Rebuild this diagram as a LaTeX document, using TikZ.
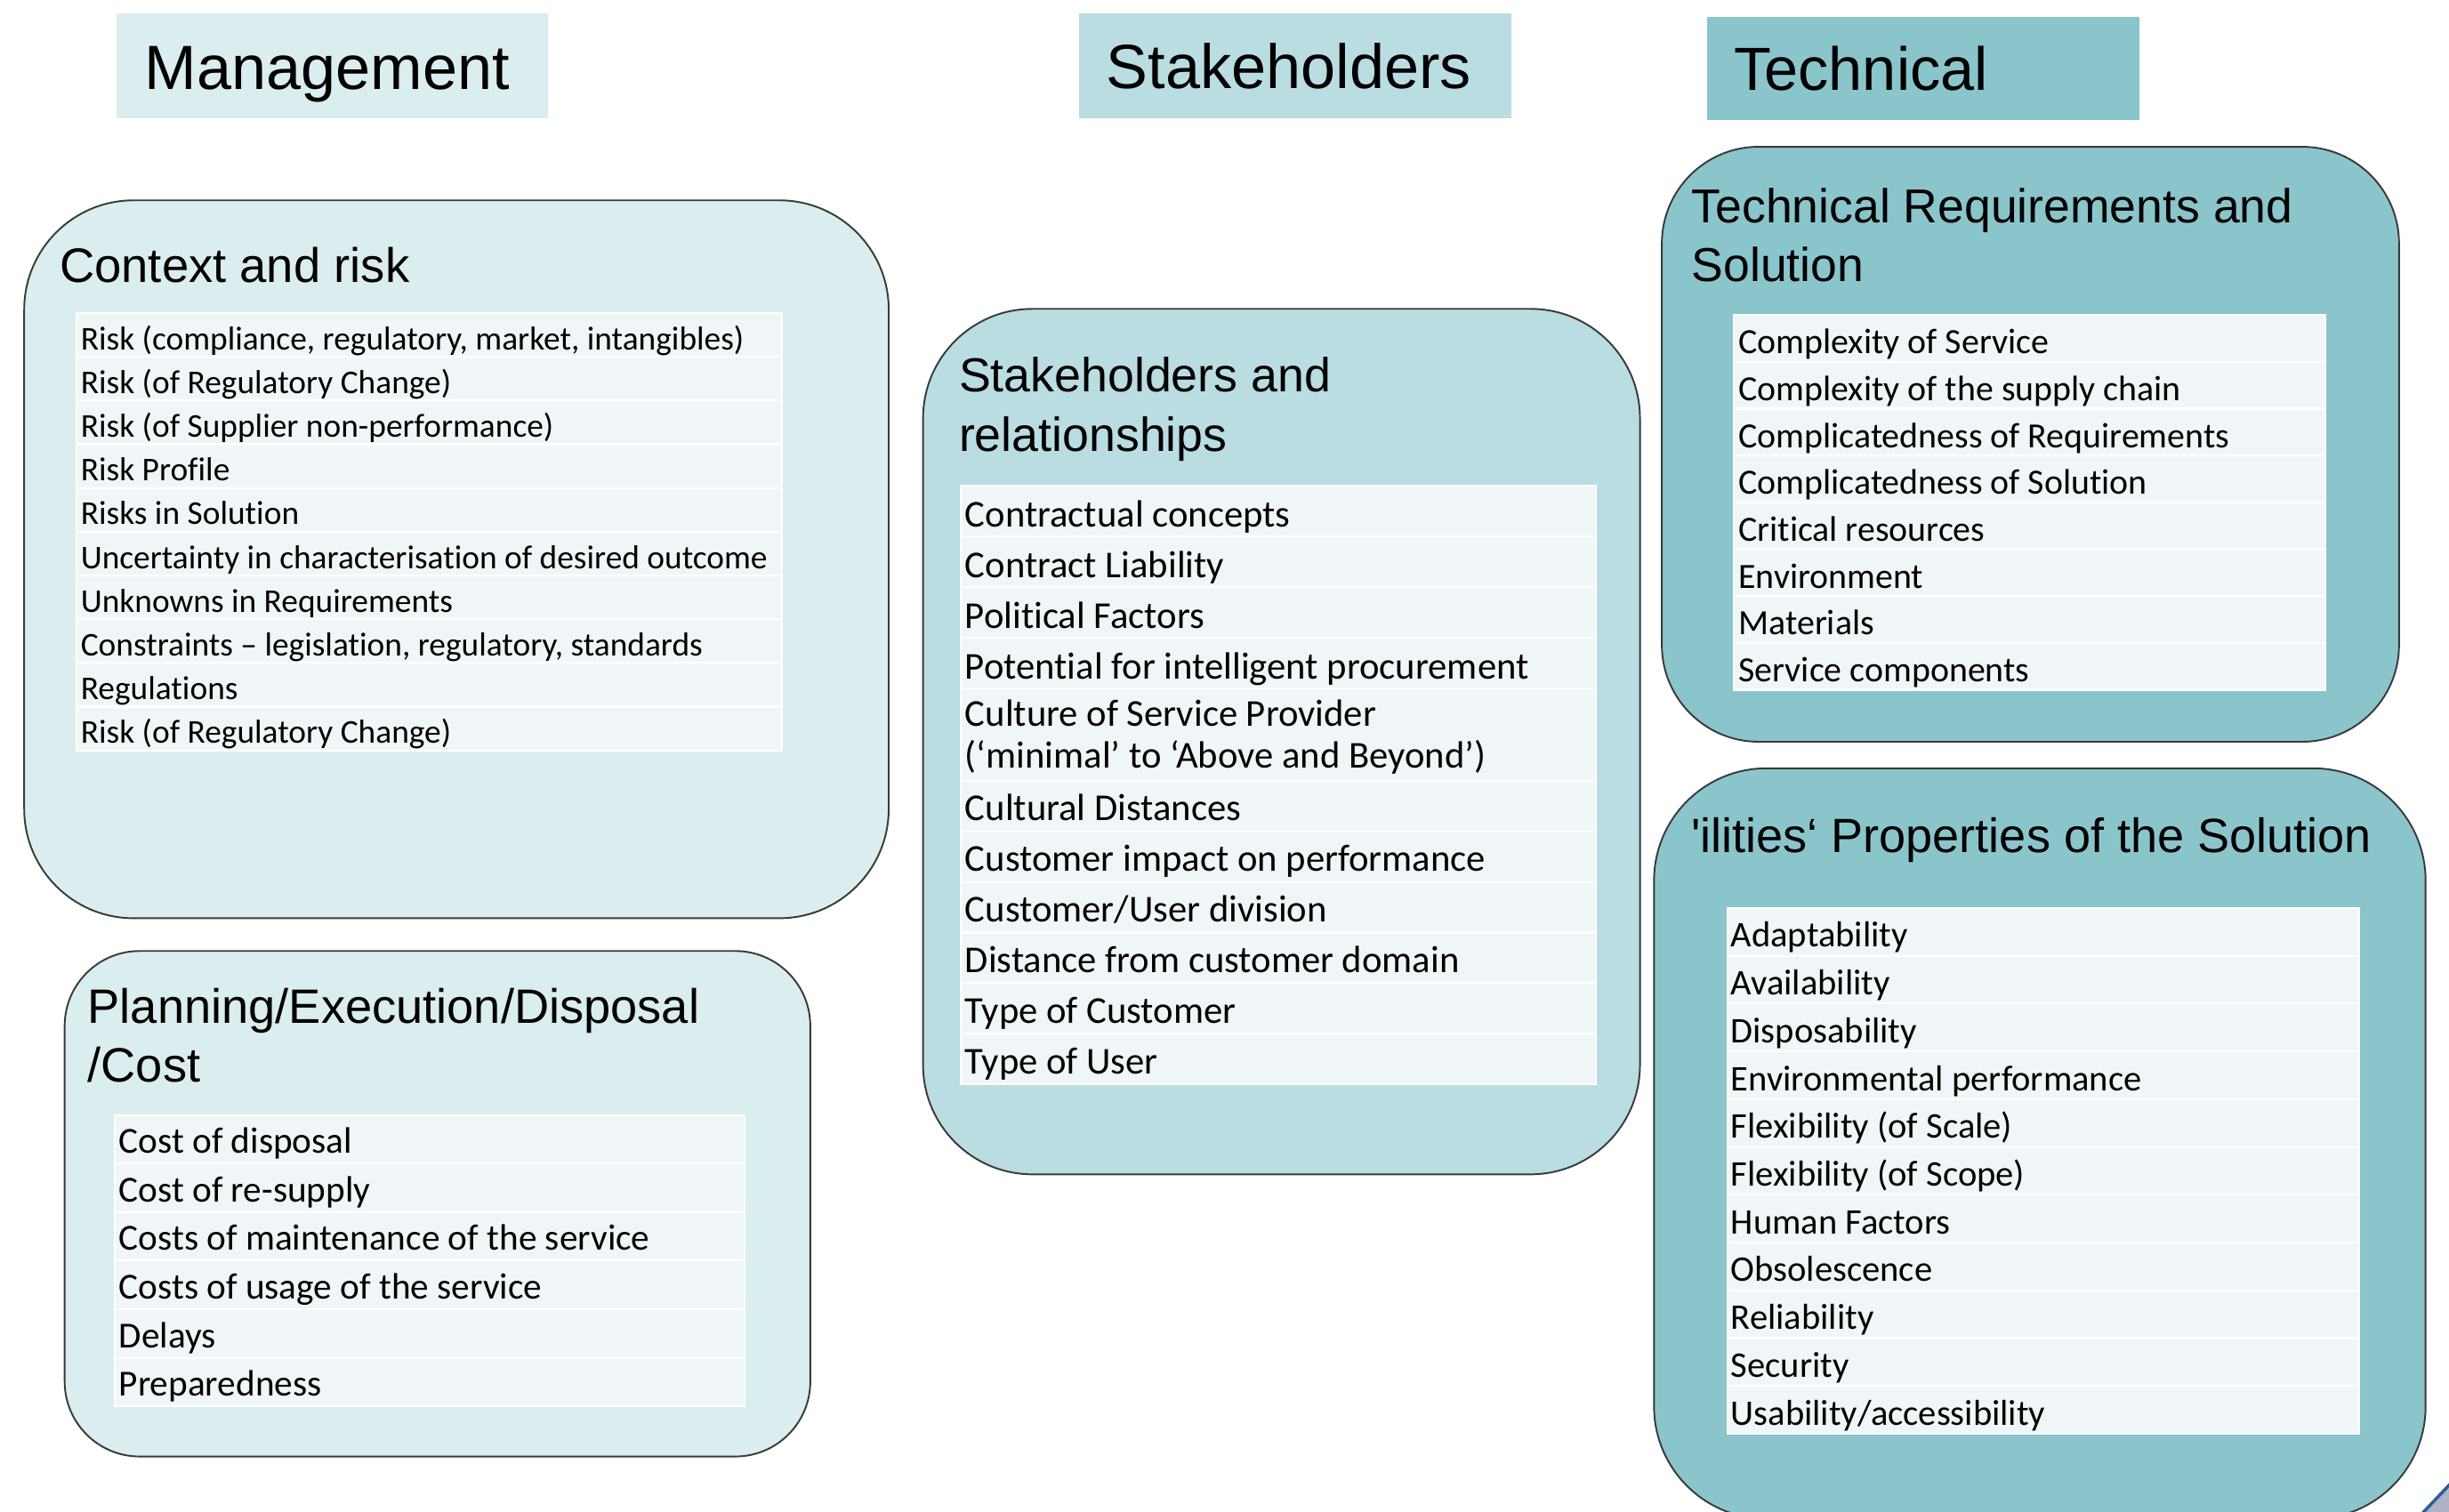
\documentclass[tikz,border=0pt]{standalone}
\usepackage{fontspec}
\setmainfont{Liberation Sans}
\newfontfamily\calfont[Ligatures={NoCommon}]{Carlito}
\definecolor{mgmt}{HTML}{DAEDEF}
\definecolor{stake}{HTML}{B9DDE1}
\definecolor{tech}{HTML}{8AC5CC}
\definecolor{rowfill}{HTML}{F0F6F8}
\definecolor{edge}{HTML}{3A3A3A}
\definecolor{decoblue}{HTML}{2E5C9A}
\definecolor{decofill}{HTML}{AEB2C4}
\begin{document}
\begin{tikzpicture}[x=1pt,y=-1pt,
  rbox/.style={draw=edge, line width=1.1pt, fill=#1},
  rowbox/.style={fill=rowfill, draw=white, line width=1.2pt},
  hdrtxt/.style={anchor=base west, inner sep=0pt, font=\fontsize{#1}{#1}\selectfont},
  ttl/.style={anchor=base west, inner sep=0pt, font=\fontsize{#1}{#1}\selectfont},
  itm/.style={anchor=base west, inner sep=0pt, font=\calfont\fontsize{#1}{#1}\selectfont},
]
\useasboundingbox (0,0) rectangle (1568,968);
\clip (0,0) rectangle (1568,968);
\fill[white] (0,0) rectangle (1568,968);

% ---------- column headers ----------
\path[fill=mgmt] (74.5,8.7) rectangle (351,76);
\node[hdrtxt=40] (hMgmt) at (92.5,57.2) {Management};
\path[fill=stake] (691,8.7) rectangle (967.5,76);
\node[hdrtxt=40] (hStake) at (708.2,56.6) {Stakeholders};
\path[fill=tech] (1093,11) rectangle (1370,77);
\node[hdrtxt=39] (hTech) at (1110,58) {Technical};

% ---------- rounded group boxes ----------
\path[rbox=mgmt, rounded corners=70pt] (15.5,128.3) rectangle (569,588);
\path[rbox=mgmt, rounded corners=48pt] (41.4,609) rectangle (518.8,932.7);
\path[rbox=stake, rounded corners=70pt] (591,197.8) rectangle (1050,752);
\path[rbox=tech, rounded corners=62pt] (1064,94) rectangle (1536,475);
\path[rbox=tech, rounded corners=72pt] (1059,492) rectangle (1553,972.6);

% ---------- titles ----------
\node[ttl=31] (tCtx) at (38,181) {Context and risk};
\node[ttl=30.9] (tPlan1) at (56,655) {Planning/Execution/Disposal};
\node[ttl=30.9] (tPlan2) at (56,693) {/Cost};
\node[ttl=30.6] (tStk1) at (613.8,251) {Stakeholders and};
\node[ttl=30.6] (tStk2) at (613.8,289) {relationships};
\node[ttl=30.5] (tTech1) at (1083,142.8) {Technical Requirements and};
\node[ttl=30.5] (tTech2) at (1083,180.4) {Solution};
\node[ttl=30.8] (tIl) at (1082.6,545.8) {\textquotesingle ilities‘ Properties of the Solution};

% ---------- Context and risk table ----------
\foreach \t [count=\i from 0] in {
  {Risk (compliance, regulatory, market, intangibles)},
  {Risk (of Regulatory Change)},
  {Risk (of Supplier non-performance)},
  {Risk Profile},
  {Risks in Solution},
  {Uncertainty in characterisation of desired outcome},
  {Unknowns in Requirements},
  {Constraints – legislation, regulatory, standards},
  {Regulations},
  {Risk (of Regulatory Change)}}{
  \path[rowbox] (49,{200.5+28*\i}) rectangle (500.5,{228.5+28*\i});
  \node[itm=21.3] (ctx-\i) at (51.5,{224+28*\i}) {\t};
}

% ---------- Planning table ----------
\foreach \t [count=\i from 0] in {
  {Cost of disposal},
  {Cost of re-supply},
  {Costs of maintenance of the service},
  {Costs of usage of the service},
  {Delays},
  {Preparedness}}{
  \path[rowbox] (73.5,{714+31.1*\i}) rectangle (476.5,{745.1+31.1*\i});
  \node[itm=23.5] (pln-\i) at (76,{738.5+31.1*\i}) {\t};
}

% ---------- Stakeholders table ----------
\foreach \t [count=\i from 0] in {
  {Contractual concepts},
  {Contract Liability},
  {Political Factors},
  {Potential for intelligent procurement}}{
  \path[rowbox] (615,{311+32.4*\i}) rectangle (1022,{343.4+32.4*\i});
  \node[itm=24.3] (stk-\i) at (617.7,{337.5+32.4*\i}) {\t};
}
\path[rowbox] (615,440.6) rectangle (1022,500);
\node[itm=24.3] (stk-cul1) at (617.7,465) {Culture of Service Provider};
\node[itm=24.3] (stk-cul2) at (617.7,492) {(‘minimal’ to ‘Above and Beyond’)};
\foreach \t [count=\i from 0] in {
  {Cultural Distances},
  {Customer impact on performance},
  {Customer/User division},
  {Distance from customer domain},
  {Type of Customer},
  {Type of User}}{
  \path[rowbox] (615,{500+32.4*\i}) rectangle (1022,{532.4+32.4*\i});
  \node[itm=24.3] (stk2-\i) at (617.7,{525.5+32.4*\i}) {\t};
}

% ---------- Technical requirements table ----------
\foreach \t [count=\i from 0] in {
  {Complexity of Service},
  {Complexity of the supply chain},
  {Complicatedness of Requirements},
  {Complicatedness of Solution},
  {Critical resources},
  {Environment},
  {Materials},
  {Service components}}{
  \path[rowbox] (1110,{201.7+30*\i}) rectangle (1489,{231.7+30*\i});
  \node[itm=22.7] (tec-\i) at (1113,{226.5+30*\i}) {\t};
}

% ---------- 'ilities table ----------
\foreach \t [count=\i from 0] in {
  {Adaptability},
  {Availability},
  {Disposability},
  {Environmental performance},
  {Flexibility (of Scale)},
  {Flexibility (of Scope)},
  {Human Factors},
  {Obsolescence},
  {Reliability},
  {Security},
  {Usability/accessibility}}{
  \path[rowbox] (1106,{581.5+30.6*\i}) rectangle (1510.5,{612.1+30.6*\i});
  \node[itm=23.1] (ili-\i) at (1108,{606.5+30.6*\i}) {\t};
}

% ---------- corner fragment ----------
\path[fill=decofill] (1551,969) -- (1569,950) -- (1569,969) -- cycle;
\draw[decoblue, line width=2pt] (1551,969) -- (1569,950);
\end{tikzpicture}
\end{document}
